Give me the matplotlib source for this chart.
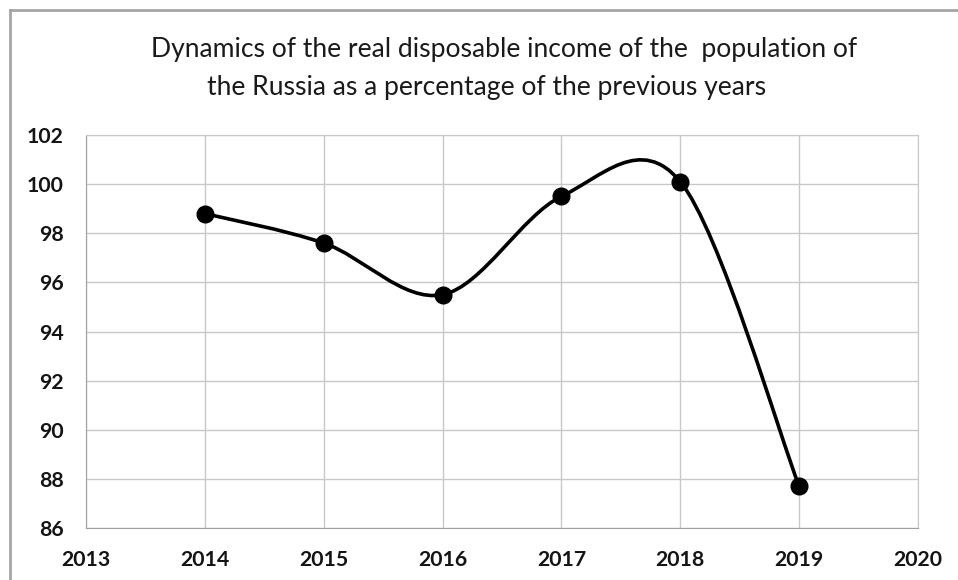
import numpy as np
import matplotlib
matplotlib.use("Agg")
import matplotlib.pyplot as plt
from matplotlib.path import Path
from matplotlib.patches import PathPatch
from matplotlib.lines import Line2D

# data
years = [2014, 2015, 2016, 2017, 2018, 2019]
income = [98.8, 97.6, 95.5, 99.5, 100.1, 87.7]
x_ticks = [2013, 2014, 2015, 2016, 2017, 2018, 2019, 2020]
y_ticks = [86, 88, 90, 92, 94, 96, 98, 100, 102]
title_lines = ["Dynamics of the real disposable income of the  population of",
               "the Russia as a percentage of the previous years"]

plt.rcParams["font.family"] = ["Lato", "DejaVu Sans"]

fig = plt.figure(figsize=(9.58, 5.80), dpi=100)
ax = fig.add_axes([86 / 958, 52 / 580, 832 / 958, 393 / 580])

# frame around chart (top and left edges visible)
fig.add_artist(Line2D([10 / 958, 10 / 958], [0, 1 - 10 / 580],
                      transform=fig.transFigure, color="#a6a6a6", lw=2))
fig.add_artist(Line2D([10 / 958, 1], [1 - 10 / 580, 1 - 10 / 580],
                      transform=fig.transFigure, color="#a6a6a6", lw=2))

ax.set_xlim(2013, 2020)
ax.set_ylim(86, 102)
ax.set_xticks(x_ticks)
ax.set_yticks(y_ticks)
ax.grid(True, color="#c8c8c8", lw=1.0)
ax.set_axisbelow(True)
for s in ax.spines.values():
    s.set_color("#c8c8c8")
ax.spines["left"].set_color("#a0a0a0")
ax.spines["bottom"].set_color("#a0a0a0")
ax.tick_params(length=0, labelsize=15.3, colors="#141414")
ax.tick_params(axis="x", pad=16)
ax.tick_params(axis="y", pad=16)
for lab in ax.get_xticklabels() + ax.get_yticklabels():
    lab.set_fontweight("bold")

# smooth line (Catmull-Rom style bezier like Excel)
pts = np.column_stack([years, income]).astype(float)
n = len(pts)
verts = [pts[0]]
codes = [Path.MOVETO]
for i in range(n - 1):
    p_prev = pts[max(i - 1, 0)]
    p0 = pts[i]
    p1 = pts[i + 1]
    p_next = pts[min(i + 2, n - 1)]
    c1 = p0 + (p1 - p_prev) / 6
    c2 = p1 - (p_next - p0) / 6
    verts += [c1, c2, p1]
    codes += [Path.CURVE4] * 3
ax.add_patch(PathPatch(Path(verts, codes), fill=False, ec="black", lw=2.6,
                       zorder=3))
ax.plot(years, income, "o", color="black", ms=12, zorder=4)

# title, two centred lines (first line sits a bit to the right)
fig.text(504.5 / 958, 1 - 50 / 580, title_lines[0], ha="center", va="center",
         fontsize=19.1, color="#1a1a1a")
fig.text(486.5 / 958, 1 - 88 / 580, title_lines[1], ha="center", va="center",
         fontsize=19.1, color="#1a1a1a")

fig.savefig("out.png", dpi=100, facecolor="white")
